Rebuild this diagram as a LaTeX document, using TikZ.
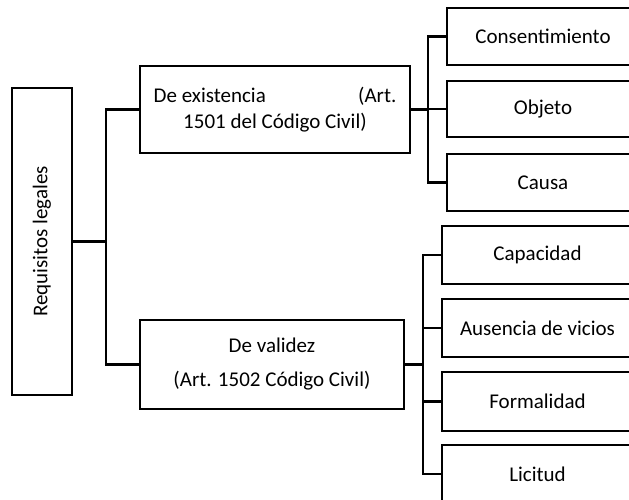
\documentclass[tikz,border=0pt]{standalone}
\usepackage{fontspec}
\setmainfont{Carlito}
\begin{document}
\begin{tikzpicture}[x=0.75pt,y=-0.75pt,
  box/.style={draw=black,line width=2.2pt,rectangle,inner sep=0pt,align=center,
    font=\fontsize{15.75}{19}\selectfont},
  conn/.style={draw=black,line width=2.2pt,line join=miter}]
\useasboundingbox (0,0) rectangle (629,500);
\clip (0,0) rectangle (629,500);
% root
\node[box,minimum width=45pt,minimum height=230.25pt] (req) at (42,241.5) {};
\node[rotate=90,inner sep=0pt,font=\fontsize{15.75}{19}\selectfont] (reqt) at (42,241.5) {Requisitos legales};
% level 1
\node[box,minimum width=202.5pt,minimum height=65.25pt] (ex) at (275,109.5)
  {\makebox[182pt]{De existencia\hfill(Art.}\\1501 del Código Civil)};
\node[box,minimum width=198pt,minimum height=66.75pt,font=\fontsize{15.75}{25.5}\selectfont] (va) at (272,364.5)
  {De validez\\(Art. 1502 Código Civil)};
% level 2 (existencia)
\node[box,minimum width=144pt,minimum height=42.75pt] (c1) at (543,36.5) {Consentimiento};
\node[box,minimum width=144pt,minimum height=42pt] (c2) at (543,109) {Objeto};
\node[box,minimum width=144pt,minimum height=42.75pt] (c3) at (543,182.5) {Causa};
% level 2 (validez)
\node[box,minimum width=143.25pt,minimum height=43.5pt] (v1) at (537.5,255) {Capacidad};
\node[box,minimum width=143.25pt,minimum height=43.5pt] (v2) at (537.5,328) {Ausencia de vicios};
\node[box,minimum width=143.25pt,minimum height=44.25pt] (v3) at (537.5,401.5) {Formalidad};
\node[box,minimum width=143.25pt,minimum height=43.5pt] (v4) at (537.5,474) {Licitud};
% junctions
\coordinate (t0) at (106,241.5);
\coordinate (j1) at (428,109.5);
\coordinate (j2) at (423,364.5);
% connectors
\draw[conn] (req.east) -- (t0);
\draw[conn] (ex.west) -| (t0) |- (va.west);
\draw[conn] (ex.east) -- (j1);
\draw[conn] (c1.west) -| (j1) |- (c3.west);
\draw[conn] (j1 |- c2.west) -- (c2.west);
\draw[conn] (va.east) -- (j2);
\draw[conn] (v1.west) -| (j2) |- (v4.west);
\draw[conn] (j2 |- v2.west) -- (v2.west);
\draw[conn] (j2 |- v3.west) -- (v3.west);
\end{tikzpicture}
\end{document}
